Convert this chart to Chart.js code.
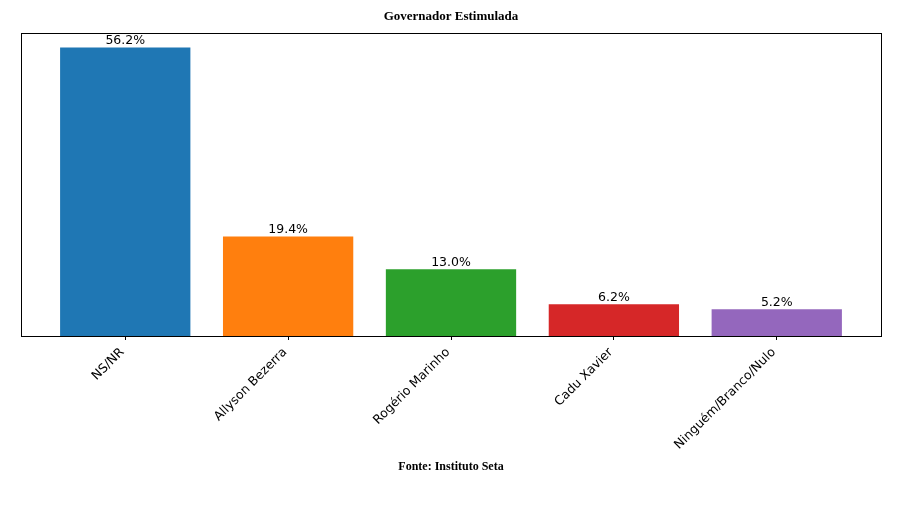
<!DOCTYPE html>
<html>
<head>
<meta charset="utf-8">
<script src="https://cdn.jsdelivr.net/npm/chart.js@4"></script>
<style>
  html, body { margin: 0; padding: 0; background: #fff; }
  #wrap { width: 901px; height: 508px; position: relative; }
</style>
</head>
<body>
<div id="wrap"><canvas id="govChart"></canvas></div>
<script>
const categories = ["NS/NR", "Allyson Bezerra", "Rogério Marinho", "Cadu Xavier", "Ninguém/Branco/Nulo"];
const percentages = [56.2, 19.4, 13.0, 6.2, 5.2];
const barColors = ["#1f77b4", "#ff7f0e", "#2ca02c", "#d62728", "#9467bd"];
const chartTitle = "Governador Estimulada";
const sourceNote = "Fonte: Instituto Seta";

// matplotlib-like margins
const xMin = -0.4 - 0.05 * (categories.length - 1 + 0.8);
const xMax = categories.length - 1 + 0.4 + 0.05 * (categories.length - 1 + 0.8);
const yMax = Math.max(...percentages) * 1.05;

const frame = {
    id: "frame",
    afterDraw(chart) {
        const { ctx, chartArea: a } = chart;
        ctx.save();
        ctx.strokeStyle = "#000";
        ctx.lineWidth = 1;
        ctx.strokeRect(Math.round(a.left) + 0.5, Math.round(a.top) + 0.5, Math.round(a.right - a.left), Math.round(a.bottom - a.top));

        // value labels
        ctx.fillStyle = "#000";
        ctx.font = "12.5px 'DejaVu Sans'";
        ctx.textAlign = "center";
        ctx.textBaseline = "alphabetic";
        chart.getDatasetMeta(0).data.forEach((bar, i) => {
            ctx.fillText(percentages[i].toFixed(1) + "%", bar.x, bar.y - 3);
        });

        // title and source
        ctx.textBaseline = "middle";
        ctx.font = "bold 13px 'Liberation Serif'";
        ctx.fillText(chartTitle, 451, 17);
        ctx.font = "bold 12px 'Liberation Serif'";
        ctx.fillText(sourceNote, 451, 467);
        ctx.restore();
    }
};

new Chart(document.getElementById("govChart"), {
    type: "bar",
    data: {
        datasets: [{
            data: percentages.map((v, i) => ({ x: i, y: v })),
            backgroundColor: barColors,
            borderWidth: 0,
            barPercentage: 0.8,
            categoryPercentage: 1.0,
        }],
    },
    options: {
        responsive: true,
        maintainAspectRatio: false,
        animation: false,
        layout: { padding: { left: 21, right: 20, top: 33, bottom: 42 } },
        plugins: { legend: { display: false }, tooltip: { enabled: false } },
        scales: {
            x: {
                type: "linear",
                offset: false,
                min: xMin,
                max: xMax,
                afterBuildTicks: (s) => { s.ticks = categories.map((c, i) => ({ value: i })); },
                afterFit: (s) => { s.height = 130; },
                ticks: {
                    callback: (v) => categories[v],
                    minRotation: 45,
                    maxRotation: 45,
                    color: "#000",
                    padding: 5,
                    labelOffset: -3,
                    font: { family: "DejaVu Sans", size: 12.5 },
                },
                grid: { offset: false, drawOnChartArea: false, tickLength: 4, tickColor: "#000" },
                border: { color: "#000" },
            },
            y: {
                display: false,
                min: 0,
                max: yMax,
            },
        },
    },
    plugins: [frame],
});
</script>
</body>
</html>
